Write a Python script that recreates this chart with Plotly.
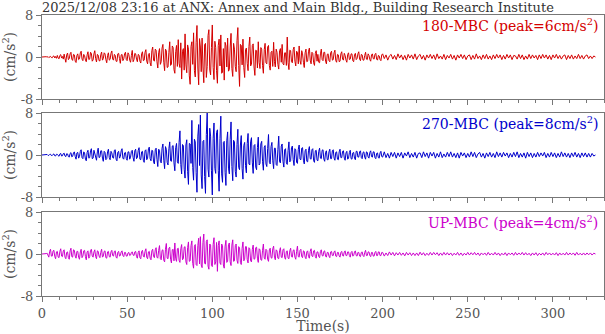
import plotly.graph_objects as go

# sample times (s): 0.5-s spacing up to 200 s, then 1-s spacing to 325 s
time_s = [i / 2 for i in range(400)] + list(range(200, 326))

# ---- 180-MBC (cm/s^2) ----
ns_180_early = [
    0, 0.02, -0.03, 0.04, -0.05, 0.06, -0.04, 0.08, -0.1, 0.07, 0.12, -0.1, -0.15, 0.14, 0.2, -0.18, 0.1, -0.25, 0.3, -0.2,
    -0.35, 0.3, 0.45, -0.2, 0.1, -0.4, 0.55, -0.3, -1.0, 0.4, 0.75, -0.5, -0.3, 0.6, 0.9, -0.4, -0.65, 0.5, 0.4, -0.8,
    -1.05, 0.3, 0.6, -0.5, -0.35, 0.8, 1.1, -0.4, -0.7, 0.5, 0.25, -0.6, -0.9, 0.4, 1.0, -0.5, -0.4, 0.9, 0.7, -0.8,
    -0.55, 0.6, 1.2, -0.3, -0.95, 0.5, 0.35, -0.7, -0.75, 0.4, 0.95, -0.6, -0.3, 0.8, 0.6, -0.5, -1.1, 0.3, 0.8, -0.6,
    -0.45, 0.7, 1.15, -0.4, -0.6, 0.5, 0.3, -0.8, -0.85, 0.6, 0.7, -0.3, -1.2, 0.4, 0.5, -0.7, -0.35, 0.6, 0.9, -0.5,
    -0.7, 0.8, 0.45, -0.6, -1.0, 0.3, 1.25, -0.9, -0.5, 0.7, 0.6, -0.4, -0.9, 0.5, 0.35, -0.8, -1.15, 0.6, 1.0, -0.7,
    -0.6, 0.9, 1.4, -0.8, -1.3, 0.5, 0.7, -1.1, -1.7, 1.2, 1.9, -0.6, -0.8, 1.5, 1.3, -0.9, -2.1, 0.8, 1.6, -1.4,
    -0.9, 1.7, 2.4, -1.0, -2.6, 1.5, 1.2, -2.0, -1.9, 0.9, 2.9, -1.6, -1.4, 2.1, 1.8, -2.4, -3.1, 1.0, 2.2, -1.8,
    3.3, -1.2, -2.0, 2.7, -4.2, 1.1, 1.6, -2.5, 4.4, -1.5, -3.0, 2.3, 1.5, -3.6, -5.2, 2.0, 2.9, -1.4, 4.6, -2.6,
    -3.8, 2.8, 6.0, -2.1, -5.3, 3.5, 1.9, -2.8, 3.6, -1.9, -4.9, 2.4, 2.6, -3.9, -1.8, 4.1, 5.2, -2.5, -3.4, 1.8,
    6.1, -2.0, -4.3, 3.0, 1.8, -2.6, -5.0, 2.2, 3.4, -1.7, 4.2, -3.1, -2.9, 1.6, -4.4, 2.8, 2.1, -1.9, 3.6, -2.7,
    -2.4, 1.9, 4.5, -2.2, -3.7, 2.6, 1.5, -1.8, -2.8, 3.1, 5.6, -1.6, -5.6, 2.4, 2.2, -1.5, 3.4, -2.0, -3.9, 1.4,
    1.7, -1.2, -2.6, 2.0, 3.8, -1.7, -1.4, 2.2, 2.5, -1.9, -3.5, 1.3, 1.2, -2.1, 2.9, -1.0, -2.2, 1.8, 1.5, -1.6,
    -3.1, 1.4, 2.6, -1.1, -1.3, 1.9, 2.2, -1.6, -2.5, 0.9, 1.1, -1.8, 2.8, -0.9, -1.9, 1.5, 0.9, -1.4, -2.3, 1.2,
    1.6, -1.0, 2.4, -1.3, -1.5, 0.8, 0.8, -1.6, 3.8, -1.1, -2.4, 1.3, 1.2, -0.9, -1.1, 1.4, 1.9, -0.8, -1.7, 1.1,
    0.9, -1.3, 2.1, -0.7, -1.4, 1.2, 0.6, -1.0, -2.0, 0.8, 1.5, -0.9, -0.8, 1.1, 1.7, -0.6, -1.3, 0.9, 0.7, -1.1,
    -1.6, 0.7, 1.2, -0.8, 0.5, -1.0, -1.1, 0.6, 1.5, -0.5, -0.7, 0.9, 0.9, -0.8, -1.3, 0.5, 0.6, -0.7, -0.9, 0.8,
    1.1, -0.6, -0.5, 0.8, 1.3, -0.7, -1.0, 0.5, 0.4, -0.9, -0.8, 0.6, 1.0, -0.4, -0.6, 0.7, 0.3, -0.6, -1.0, 0.5,
    0.8, -0.5, -0.4, 0.6, 0.6, -0.7, -0.9, 0.4, 0.7, -0.5, -0.3, 0.6, 1.0, -0.4, -0.7, 0.5, 0.4, -0.6, -0.6, 0.3,
    0.9, -0.4, -0.5, 0.6, 0.3, -0.5, -0.8, 0.4, 0.6, -0.3, -0.4, 0.5, 0.7, -0.4, -0.6, 0.3, 0.2, -0.5, -0.7, 0.4,
]
ns_180_late = [
    0.6, -0.3, 0.4, -0.6, 0.2, 0.5, -0.4, 0.3, -0.5, 0.6,
    -0.2, 0.4, -0.5, 0.3, -0.6, 0.5, -0.2, 0.4, -0.4, 0.6,
    -0.5, 0.2, 0.5, -0.4, 0.3, -0.6, 0.4, -0.2, 0.5, -0.3,
    0.4, -0.5, 0.6, -0.3, 0.2, -0.4, 0.5, -0.5, 0.3, -0.2,
    0.5, -0.4, 0.3, -0.6, 0.4, -0.2, 0.5, -0.3, 0.4, -0.5,
    0.2, 0.4, -0.5, 0.3, -0.4, 0.6, -0.3, 0.2, -0.5, 0.4,
    -0.3, 0.5, -0.4, 0.2, -0.5, 0.4, -0.3, 0.5, -0.2, 0.4,
    -0.5, 0.3, -0.4, 0.5, -0.2, 0.4, -0.5, 0.3, 0.2, -0.4,
    0.5, -0.3, 0.4, -0.5, 0.2, -0.4, 0.5, -0.3, 0.4, -0.2,
    0.3, -0.5, 0.4, -0.3, 0.5, -0.2, 0.4, -0.4, 0.3, -0.5,
    0.4, -0.2, 0.5, -0.3, 0.3, -0.4, 0.2, 0.4, -0.5, 0.3,
    -0.3, 0.4, -0.4, 0.2, -0.3, 0.5, -0.3, 0.3, -0.4, 0.2,
    0.4, -0.3, 0.2, -0.3, 0.2, 0.0,
]

# ---- 270-MBC (cm/s^2) ----
ew_270_early = [
    0, 0.02, -0.04, 0.05, -0.06, 0.08, 0.1, -0.07, -0.08, 0.1, 0.15, -0.1, -0.1, 0.12, 0.2, -0.15, -0.18, 0.14, 0.12, -0.1,
    -0.25, 0.2, 0.3, -0.2, -0.15, 0.25, 0.35, -0.2, -0.3, 0.25, 0.2, -0.3, -0.4, 0.3, 0.45, -0.35, -0.25, 0.4, 0.6, -0.3,
    -0.8, 0.4, 0.5, -0.6, -0.3, 0.7, 1.0, -0.5, -0.7, 0.6, 0.4, -0.8, -1.1, 0.5, 0.9, -0.6, -0.5, 0.8, 1.2, -0.7,
    -0.6, 0.9, 0.3, -0.7, -1.0, 0.6, 1.3, -0.5, -0.4, 0.8, 0.8, -0.6, -1.2, 0.7, 0.5, -0.9, -0.7, 0.6, 1.1, -0.5,
    -0.9, 0.7, 0.4, -0.5, -0.6, 0.9, 1.0, -0.8, -1.1, 0.5, 0.7, -0.6, -0.3, 0.8, 1.2, -0.6, -0.8, 0.4, 0.5, -0.7,
    -1.0, 0.6, 0.6, -0.8, -0.4, 0.7, 0.9, -0.5, -1.2, 0.8, 1.1, -0.7, -0.5, 0.9, 1.4, -0.8, -0.9, 0.6, 0.7, -1.0,
    -1.4, 0.8, 1.0, -0.9, -0.6, 1.2, 1.5, -0.7, -1.1, 0.9, 0.8, -1.3, -1.7, 1.0, 1.3, -0.8, -2.2, 1.1, 0.9, -1.2,
    -1.5, 1.3, 2.1, -1.0, -2.6, 1.6, 1.1, -1.4, -1.9, 1.2, 2.5, -1.1, -1.2, 1.7, 1.8, -1.5, -3.0, 1.4, 2.2, -1.3,
    -1.6, 2.4, 4.6, -1.8, -3.6, 2.0, 1.8, -2.7, -4.4, 1.9, 2.9, -3.1, -5.6, 2.2, 2.1, -1.6, 6.6, -2.4, -4.8, 3.0,
    2.5, -3.3, -7.1, 3.6, 5.8, -2.0, 7.6, -3.8, -6.4, 2.6, 2.8, -4.1, -7.3, 3.9, 8.0, -2.7, -4.2, 5.1, 3.6, -3.0,
    -7.6, 3.2, 6.1, -2.6, -3.5, 4.3, 4.8, -2.9, -6.9, 3.1, 7.4, -3.6, -5.2, 2.4, 2.6, -3.3, -5.8, 2.7, 4.4, -2.5,
    -3.6, 3.0, 6.3, -2.2, -4.9, 2.8, 2.5, -3.1, -4.2, 2.0, 4.9, -2.4, -2.8, 1.9, 3.7, -2.6, -4.6, 1.8, 2.4, -2.0,
    -3.4, 2.2, 4.1, -1.7, -1.9, 2.5, 3.3, -1.5, -3.5, 1.8, 2.0, -2.3, -2.8, 1.4, 3.4, -1.9, -1.6, 2.1, 2.6, -1.2,
    -2.9, 1.5, 1.8, -1.7, -2.2, 1.2, 3.9, -1.4, -1.7, 1.6, 2.4, -1.1, -2.6, 1.3, 1.3, -1.8, -2.0, 1.0, 3.6, -1.3,
    -1.5, 1.7, 2.1, -1.2, -2.3, 1.0, 1.2, -1.5, -1.8, 0.9, 2.5, -1.3, -1.1, 1.4, 1.7, -0.9, -2.0, 1.2, 1.0, -1.4,
    -1.6, 1.1, 1.9, -0.8, -0.9, 1.3, 1.4, -1.0, -1.7, 0.8, 1.1, -1.2, -1.3, 0.9, 1.6, -0.7, -0.8, 1.0, 1.2, -1.1,
    -1.4, 0.8, 0.9, -1.0, -1.1, 0.7, 1.3, -0.6, -0.7, 0.9, 1.0, -0.8, -1.2, 0.5, 0.8, -0.9, -0.9, 0.6, 1.1, -0.7,
    -0.7, 0.8, 1.0, -0.6, -1.0, 0.5, 0.6, -0.8, -0.9, 0.6, 1.1, -0.5, -0.5, 0.7, 0.8, -0.6, -1.0, 0.4, 0.7, -0.8,
    -0.6, 0.5, 0.9, -0.7, -0.8, 0.4, 0.5, -0.6, -0.9, 0.7, 0.7, -0.4, -0.4, 0.6, 0.8, -0.5, -0.7, 0.5, 0.6, -0.4,
    -0.8, 0.6, 0.5, -0.4, -0.6, 0.5, 0.8, -0.3, -0.4, 0.6, 0.6, -0.5, -0.7, 0.3, 0.4, -0.5, -0.6, 0.4, 0.7, -0.3,
]
ew_270_late = [
    -0.4, 0.6, -0.5, 0.3, -0.6, 0.5, -0.3, 0.5, -0.6, 0.4,
    -0.3, 0.5, -0.6, 0.4, -0.2, 0.6, -0.5, 0.3, -0.4, 0.5,
    -0.6, 0.3, 0.4, -0.5, 0.6, -0.3, 0.4, -0.6, 0.5, -0.2,
    0.5, -0.6, 0.3, -0.4, 0.6, -0.5, 0.2, -0.4, 0.5, -0.3,
    0.6, -0.4, 0.3, -0.5, 0.4, -0.6, 0.5, -0.2, 0.4, -0.5,
    0.3, -0.4, 0.6, -0.3, 0.5, -0.5, 0.2, 0.5, -0.4, 0.3,
    -0.6, 0.4, -0.3, 0.5, -0.4, 0.3, -0.5, 0.6, -0.3, 0.4,
    -0.4, 0.5, -0.2, 0.4, -0.5, 0.3, -0.4, 0.5, -0.3, 0.6,
    -0.5, 0.3, -0.4, 0.4, -0.6, 0.5, -0.3, 0.4, -0.5, 0.3,
    -0.4, 0.5, -0.3, 0.4, -0.2, 0.5, -0.5, 0.3, -0.4, 0.5,
    -0.3, 0.4, -0.5, 0.3, -0.4, 0.6, -0.3, 0.4, -0.4, 0.3,
    -0.5, 0.4, -0.3, 0.5, -0.4, 0.3, -0.5, 0.4, -0.3, 0.4,
    -0.4, 0.3, -0.4, 0.3, -0.2, 0.0,
]

# ---- UP-MBC (cm/s^2) ----
ud_up_early = [
    0, 0.02, -0.03, 0.04, -0.05, 0.08, 0.15, -0.3, -0.6, 0.5, 0.9, -0.4, -0.4, 0.6, 0.7, -0.5, -0.9, 0.4, 0.5, -0.6,
    -0.7, 0.5, 1.0, -0.4, -0.5, 0.6, 0.8, -0.6, -0.9, 0.3, 0.4, -0.7, -1.0, 0.6, 1.1, -0.5, -0.6, 0.8, 0.7, -0.4,
    -0.8, 0.5, 0.5, -0.6, -1.0, 0.4, 0.9, -0.7, -0.4, 0.6, 0.7, -0.5, -1.1, 0.4, 0.6, -0.8, -0.5, 0.7, 0.9, -0.4,
    -0.6, 0.4, 0.8, -0.5, -0.9, 0.6, 0.5, -0.4, -0.7, 0.3, 0.9, -0.6, -0.4, 0.5, 0.6, -0.7, -0.8, 0.4, 0.5, -0.5,
    -0.6, 0.4, 0.7, -0.3, -0.4, 0.5, 0.6, -0.6, -0.8, 0.3, 0.5, -0.4, -0.3, 0.4, 0.6, -0.3, -0.5, 0.3, 0.3, -0.4,
    -0.4, 0.2, 0.3, -0.3, -0.2, 0.3, 0.4, -0.2, -0.3, 0.4, 0.5, -0.5, -0.8, 0.3, 0.6, -0.7, -0.9, 0.5, 0.7, -0.4,
    -0.6, 0.5, 1.0, -0.6, -0.9, 0.4, 0.5, -0.8, -1.1, 0.6, 0.9, -0.5, -0.7, 0.8, 1.2, -0.6, -0.8, 0.7, 1.6, -0.9,
    -1.1, 0.7, 0.8, -1.2, -1.5, 0.9, 2.0, -0.8, -0.9, 1.1, 1.3, -1.0, -1.7, 0.8, 0.9, -1.3, 2.1, -0.9, -1.4, 1.0,
    1.1, -1.2, -1.6, 1.0, 1.8, -1.1, -0.9, 1.3, 1.4, -1.5, -2.0, 1.2, 2.3, -1.4, -1.3, 1.6, 2.5, -1.8, -2.7, 1.5,
    1.8, -2.0, -2.2, 1.6, 3.0, -1.9, 3.3, -2.1, -2.6, 2.2, 3.8, -1.8, -1.9, 2.4, 2.7, -2.3, -2.9, 1.9, 1.7, -2.2,
    -2.4, 1.8, 3.1, -2.0, -1.5, 2.2, -3.3, 1.6, 2.5, -1.7, -2.0, 1.9, 1.6, -2.1, -2.7, 1.5, 2.6, -1.6, -1.4, 1.8,
    2.1, -1.5, -2.2, 1.7, 2.7, -1.4, -1.3, 1.6, 1.9, -1.2, -1.8, 1.4, 1.2, -1.6, -2.0, 1.1, 2.3, -1.3, -1.0, 1.4,
    1.4, -1.1, -1.7, 1.2, 1.0, -1.3, -1.5, 0.9, 1.7, -1.0, -0.9, 1.2, 1.3, -0.8, -1.6, 1.0, 0.8, -1.1, -1.2, 0.7,
    1.9, -0.8, -1.0, 0.9, 0.7, -1.0, -1.4, 0.8, 1.1, -0.7, -0.8, 1.0, 1.5, -0.6, -1.1, 0.8, 0.6, -0.8, -0.9, 0.6,
    1.2, -0.6, -0.7, 0.8, 1.0, -0.7, -1.0, 0.5, 0.6, -0.8, -0.9, 0.6, 1.1, -0.5, -0.6, 0.7, 0.8, -0.6, -1.0, 0.5,
    1.5, -0.5, -0.6, 0.7, 0.9, -0.5, -0.7, 0.6, 0.5, -0.6, -0.9, 0.4, 0.6, -0.5, -0.8, 0.5, 1.0, -0.4, -0.5, 0.6,
    0.7, -0.5, -0.8, 0.4, 0.4, -0.5, -0.7, 0.5, 0.8, -0.3, -0.4, 0.5, 0.6, -0.4, -0.6, 0.3, 0.3, -0.4, -0.7, 0.4,
    0.5, -0.3, -0.3, 0.4, 0.6, -0.4, -0.5, 0.3, 0.3, -0.4, -0.6, 0.3, 0.5, -0.3, -0.4, 0.4, 0.6, -0.3, -0.3, 0.4,
    0.4, -0.3, -0.6, 0.3, 0.5, -0.4, -0.3, 0.4, 0.6, -0.3, -0.4, 0.3, 0.3, -0.4, -0.5, 0.3, 0.4, -0.3, -0.5, 0.3,
    0.7, -0.3, -0.3, 0.4, 0.4, -0.3, -0.5, 0.3, 0.3, -0.4, -0.4, 0.3, 0.5, -0.3, -0.3, 0.4, 0.4, -0.3, -0.3, 0.3,
]
ud_up_late = [
    0.3, -0.4, 0.2, -0.3, 0.4, -0.2, 0.3, -0.35, 0.25, -0.2,
    0.3, -0.25, 0.2, -0.35, 0.3, -0.2, 0.25, -0.3, 0.2, -0.3,
    0.2, -0.3, 0.35, -0.2, 0.25, -0.3, 0.15, -0.25, 0.3, -0.2,
    0.3, -0.15, 0.25, -0.3, 0.2, -0.25, 0.3, -0.2, 0.25, -0.2,
    0.2, -0.3, 0.15, -0.2, 0.3, -0.25, 0.2, -0.3, 0.15, -0.2,
    0.3, -0.2, 0.25, -0.15, 0.3, -0.2, 0.2, -0.3, 0.2, -0.15,
    0.2, -0.25, 0.3, -0.2, 0.15, -0.2, 0.3, -0.2, 0.2, -0.3,
    0.15, -0.2, 0.25, -0.3, 0.2, -0.15, 0.2, -0.25, 0.3, -0.2,
    0.2, -0.15, 0.3, -0.2, 0.25, -0.2, 0.15, -0.3, 0.2, -0.2,
    0.25, -0.3, 0.15, -0.2, 0.2, -0.25, 0.3, -0.15, 0.2, -0.2,
    0.15, -0.2, 0.25, -0.3, 0.2, -0.2, 0.15, -0.2, 0.3, -0.2,
    0.2, -0.15, 0.2, -0.25, 0.3, -0.2, 0.15, -0.2, 0.2, -0.2,
    0.2, -0.15, 0.2, -0.2, 0.15, 0.0,
]

channel_labels = ["180-MBC (peak=6cm/s<sup>2</sup>)",
                  "270-MBC (peak=8cm/s<sup>2</sup>)",
                  "UP-MBC (peak=4cm/s<sup>2</sup>)"]
colors = ["#d40000", "#0000cc", "#cc00cc"]
series = [ns_180_early + ns_180_late,
          ew_270_early + ew_270_late,
          ud_up_early + ud_up_late]
for s in series:
    assert len(s) == len(time_s), (len(s), len(time_s))
title_text = "2025/12/08 23:16 at ANX: Annex and Main Bldg., Building Research Institute"

W, H = 605, 334
ml, mr, mt, mb = 42, 1, 15, 38
ph = H - mt - mb
panels_px = [(15, 99), (113, 197), (212, 296)]
domains = [[(296 - b) / ph, (296 - t) / ph] for t, b in panels_px]

FONT = "DejaVu Serif"
AX = "#777777"
TXT = "#555555"

fig = go.Figure()
layout = dict(
    width=W, height=H,
    margin=dict(l=ml, r=mr, t=mt, b=mb),
    paper_bgcolor="white", plot_bgcolor="white",
    showlegend=False,
    font=dict(family=FONT, size=13, color=TXT),
    title=dict(text=title_text, x=ml / W, xanchor="left", xref="container",
               y=1 - 7 / H, yanchor="middle", yref="container",
               font=dict(family=FONT, size=13, color="#333333")),
)
annotations = []
for i in range(3):
    n = "" if i == 0 else str(i + 1)
    fig.add_trace(go.Scatter(x=time_s, y=series[i], mode="lines",
                             line=dict(color=colors[i], width=1),
                             xaxis="x" + n, yaxis="y" + n, hoverinfo="skip"))
    layout["xaxis" + n] = dict(
        domain=[0, 1], range=[0, 330], anchor="y" + n,
        showgrid=False, zeroline=False, showline=True, mirror=True,
        linecolor=AX, linewidth=1,
        ticks="outside", ticklen=5, tickcolor=AX, tickwidth=1,
        tick0=0, dtick=50, showticklabels=(i == 2),
        tickfont=dict(family=FONT, size=13, color=TXT),
        minor=dict(ticks="outside", dtick=10, ticklen=3, tickcolor=AX),
        title=dict(text="Time(s)" if i == 2 else "", standoff=3,
                   font=dict(family=FONT, size=14, color=TXT)),
    )
    layout["yaxis" + n] = dict(
        domain=domains[i], range=[-8, 8], anchor="x" + n,
        showgrid=False, zeroline=False, showline=True, mirror=True,
        linecolor=AX, linewidth=1,
        tickmode="array", tickvals=[-8, 0, 8], ticktext=["-8", "0", "8"],
        ticks="outside", ticklen=5, tickcolor=AX,
        tickfont=dict(family=FONT, size=13, color=TXT),
        minor=dict(ticks="outside", tickmode="array",
                   tickvals=[-6, -4, -2, 2, 4, 6], ticklen=3, tickcolor=AX),
        title=dict(text="(cm/s<sup>2</sup>)", standoff=4,
                   font=dict(family=FONT, size=14, color=TXT)),
    )
    annotations.append(dict(
        text=channel_labels[i], xref="x" + n + " domain", yref="y" + n + " domain",
        x=0.993, y=1 - 10 / 84, xanchor="right", yanchor="middle",
        showarrow=False, font=dict(family=FONT, size=14, color=colors[i])))
layout["annotations"] = annotations
fig.update_layout(**layout)
fig.write_html("out.html")
